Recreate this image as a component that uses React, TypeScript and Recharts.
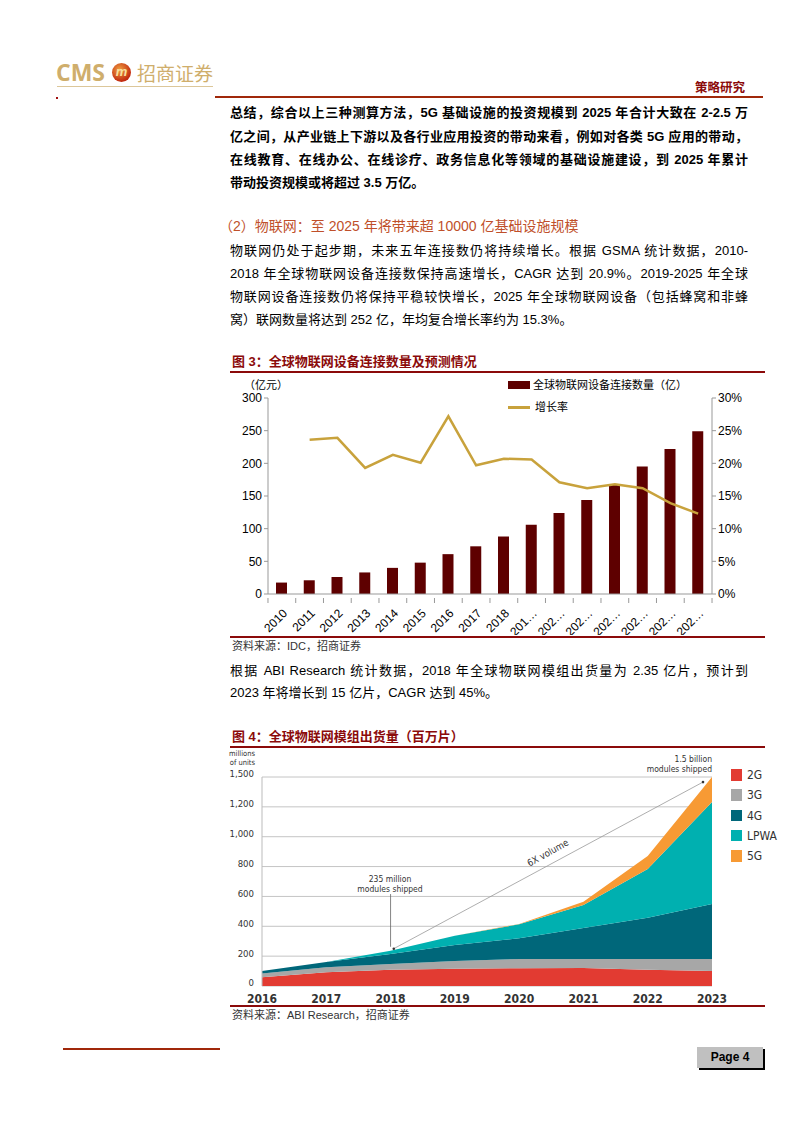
import React from "react";
import {
  ComposedChart,
  Bar,
  Line,
  XAxis,
  YAxis,
  AreaChart,
  Area,
  CartesianGrid,
  ReferenceLine,
  ReferenceDot
} from "recharts";

// figure 3: IoT connections (100m) and growth rate
const years = ["2010", "2011", "2012", "2013", "2014", "2015", "2016", "2017", "2018", "2019", "2020", "2021", "2022", "2023", "2024", "2025"];
const yearTicks = ["2010", "2011", "2012", "2013", "2014", "2015", "2016", "2017", "2018", "201…", "202…", "202…", "202…", "202…", "202…", "202…"];
const connections = [17.5, 21, 26, 33, 40, 48, 61, 73, 88, 106, 124, 144, 167, 195, 222, 249];
const growth = [null, 0.236, 0.239, 0.193, 0.213, 0.201, 0.272, 0.197, 0.207, 0.206, 0.171, 0.162, 0.168, 0.162, 0.139, 0.123];
const leftTicks = [0, 50, 100, 150, 200, 250, 300];
const rightTicks = [0, 0.05, 0.1, 0.15, 0.2, 0.25, 0.3];

// figure 4: module shipments (millions)
const shipYears = [2016, 2017, 2018, 2019, 2020, 2021, 2022, 2023];
const g2 = [58, 92, 109, 116, 119, 120, 109, 100];
const g3 = [25, 33, 38, 51, 62, 61, 72, 81];
const g4 = [17, 35, 67, 108, 139, 207, 277, 368];
const lpwa = [0, 0, 22, 62, 93, 154, 325, 683];
const g5 = [0, 0, 0, 0, 3, 23, 88, 168];
const shipTicks = [0, 200, 400, 600, 800, 1000, 1200, 1400];
const shipTickLabels = ["0", "200", "400", "600", "800", "1,000", "1,200", "1,500"];
const seriesNames = ["2G", "3G", "4G", "LPWA", "5G"];
const seriesColors = ["#e23b32", "#a7a7a7", "#00677a", "#00b0b0", "#f79a34"];
const seriesKeys = ["g2", "g3", "g4", "lpwa", "g5"];

const data1 = years.map((y, i) => ({ year: y, conn: connections[i], growth: growth[i] }));
const data2 = shipYears.map((y, i) => ({ year: y, g2: g2[i], g3: g3[i], g4: g4[i], lpwa: lpwa[i], g5: g5[i] }));

const SANS = '"Liberation Sans", Arial, "Noto Sans CJK SC", sans-serif';
const NARROW = '"Liberation Sans Narrow", "DejaVu Sans Condensed", "Liberation Sans", sans-serif';
const DARKRED = "#8b0a0a";

const TextLine = ({ top, children, bold, last, color, size = 13 }: any) => (
  <div
    style={{
      position: "absolute",
      left: 230,
      width: 518,
      top: top - 9,
      height: 18,
      lineHeight: "18px",
      fontSize: size,
      fontFamily: SANS,
      fontWeight: bold ? 700 : 400,
      color: color || "#000",
      whiteSpace: "nowrap",
      textAlign: "justify",
      textAlignLast: last ? "left" : "justify"
    }}
  >
    {children}
  </div>
);

const Abs = ({ style, children }: any) => (
  <div style={{ position: "absolute", ...style }}>{children}</div>
);

const YearTick = (props: any) => {
  const { x, y, index } = props;
  const half = 13.9;
  return (
    <g>
      <line x1={x - half} y1={y - 4} x2={x - half} y2={y + 1} stroke="#999" />
      {index === years.length - 1 && <line x1={x + half} y1={y - 4} x2={x + half} y2={y + 1} stroke="#999" />}
      <text
        x={x + 6}
        y={y + 12}
        transform={`rotate(-45, ${x + 6}, ${y + 12})`}
        textAnchor="end"
        fontSize={12}
        fontFamily={SANS}
        fill="#000"
      >
        {yearTicks[index]}
      </text>
    </g>
  );
};

const Fig3 = () => (
  <ComposedChart width={540} height={260} data={data1} margin={{ top: 23, right: 0, left: 0, bottom: 0 }}>
    <XAxis dataKey="year" interval={0} height={41} axisLine={{ stroke: "#999" }} tickLine={false} tick={<YearTick />} />
    <YAxis
      yAxisId="left"
      domain={[0, 300]}
      ticks={leftTicks}
      width={48}
      axisLine={{ stroke: "#999" }}
      tickLine={{ stroke: "#999" }}
      tickSize={4}
      tick={{ fontSize: 12, fill: "#000", fontFamily: SANS }}
    />
    <YAxis
      yAxisId="right"
      orientation="right"
      domain={[0, 0.3]}
      ticks={rightTicks}
      width={48}
      axisLine={{ stroke: "#999" }}
      tickLine={{ stroke: "#999" }}
      tickSize={4}
      tickFormatter={(v: number) => `${Math.round(v * 100)}%`}
      tick={{ fontSize: 12, fill: "#000", fontFamily: SANS }}
    />
    <Bar yAxisId="left" dataKey="conn" fill="#5e0000" barSize={11} isAnimationActive={false} />
    <Line
      yAxisId="right"
      dataKey="growth"
      stroke="#c8a23c"
      strokeWidth={2.5}
      dot={false}
      type="linear"
      connectNulls={false}
      isAnimationActive={false}
    />
  </ComposedChart>
);

const Fig4 = () => (
  <AreaChart width={540} height={260} data={data2} margin={{ top: 27, right: 48, left: 0, bottom: 0 }}>
    <CartesianGrid vertical={false} stroke="#c4c4c4" strokeWidth={1} />
    <XAxis
      dataKey="year"
      type="number"
      domain={[2016, 2023]}
      ticks={shipYears}
      height={24}
      axisLine={false}
      tickLine={false}
      tick={{ fontSize: 12, fontWeight: 700, fill: "#333", fontFamily: NARROW }}
    />
    <YAxis
      domain={[0, 1400]}
      ticks={shipTicks}
      width={42}
      axisLine={{ stroke: "#bbb" }}
      tickLine={false}
      tickFormatter={(v: number) => shipTickLabels[shipTicks.indexOf(v)]}
      tick={{ fontSize: 9.5, fill: "#333", fontFamily: NARROW, dy: -3 }}
    />
    {seriesKeys.map((k, i) => (
      <Area
        key={k}
        dataKey={k}
        stackId="1"
        type="linear"
        stroke="none"
        fill={seriesColors[i]}
        fillOpacity={1}
        isAnimationActive={false}
      />
    ))}
    <ReferenceLine segment={[{ x: 2018, y: 263 }, { x: 2018, y: 616 }]} stroke="#666" strokeWidth={0.8} />
    <ReferenceLine segment={[{ x: 2018.05, y: 250 }, { x: 2022.86, y: 1366 }]} stroke="#999" strokeWidth={0.8} />
    <ReferenceDot x={2018.05} y={250} r={1.3} fill="#333" stroke="none" />
    <ReferenceDot x={2022.86} y={1366} r={1.3} fill="#333" stroke="none" />
  </AreaChart>
);

export default function App() {
  return (
    <div style={{ position: "absolute", left: 0, top: 0, width: 793, height: 1122, background: "#fff", overflow: "hidden", fontFamily: SANS }}>
      {/* header */}
      <Abs style={{ left: 56, top: 59, fontSize: 23, fontWeight: 700, color: "#cfae6c", fontFamily: '"Open Sans", sans-serif', lineHeight: "27px" }}>CMS</Abs>
      <Abs
        style={{
          left: 112,
          top: 63,
          width: 19,
          height: 19,
          borderRadius: "50%",
          background: "radial-gradient(circle at 40% 35%, #f0a040, #c22a10 70%)",
          color: "#f8e0a0",
          fontSize: 13,
          fontWeight: 700,
          fontStyle: "italic",
          textAlign: "center",
          lineHeight: "18px"
        }}
      >
        m
      </Abs>
      <Abs style={{ left: 137, top: 61, fontSize: 19, color: "#cfae6c", fontFamily: '"Noto Sans CJK SC", sans-serif', lineHeight: "24px" }}>招商证券</Abs>
      <Abs style={{ left: 57, top: 86, width: 156, height: 1, background: "#dcc79a" }} />
      <Abs style={{ left: 56, top: 97, width: 2, height: 2, background: "#a01010" }} />
      <Abs style={{ left: 215, top: 96, width: 548, height: 1.5, background: "#a0280a" }} />
      <Abs style={{ left: 695, top: 79, fontSize: 12.5, fontWeight: 700, color: DARKRED, fontFamily: '"Noto Sans CJK SC", sans-serif', lineHeight: "16px" }}>策略研究</Abs>

      {/* summary paragraph */}
      <TextLine top={113} bold>总结，综合以上三种测算方法，5G 基础设施的投资规模到 2025 年合计大致在 2-2.5 万</TextLine>
      <TextLine top={137} bold>亿之间，从产业链上下游以及各行业应用投资的带动来看，例如对各类 5G 应用的带动，</TextLine>
      <TextLine top={160} bold>在线教育、在线办公、在线诊疗、政务信息化等领域的基础设施建设，到 2025 年累计</TextLine>
      <TextLine top={183} bold last>带动投资规模或将超过 3.5 万亿。</TextLine>

      <Abs style={{ left: 219, top: 217, fontSize: 14, color: "#c0502a", lineHeight: "18px", whiteSpace: "nowrap" }}>（2）物联网：至 2025 年将带来超 10000 亿基础设施规模</Abs>

      <TextLine top={251}>物联网仍处于起步期，未来五年连接数仍将持续增长。根据 GSMA 统计数据，2010-</TextLine>
      <TextLine top={274}>2018 年全球物联网设备连接数保持高速增长，CAGR 达到 20.9%。2019-2025 年全球</TextLine>
      <TextLine top={297}>物联网设备连接数仍将保持平稳较快增长，2025 年全球物联网设备（包括蜂窝和非蜂</TextLine>
      <TextLine top={320} last>窝）联网数量将达到 252 亿，年均复合增长率约为 15.3%。</TextLine>

      {/* figure 3 */}
      <Abs style={{ left: 232, top: 354, fontSize: 13, fontWeight: 700, color: DARKRED, lineHeight: "16px", whiteSpace: "nowrap" }}>图 3：全球物联网设备连接数量及预测情况</Abs>
      <Abs style={{ left: 230, top: 371, width: 535, height: 1.5, background: DARKRED }} />
      <Abs style={{ left: 220, top: 375 }}>
        <Fig3 />
      </Abs>
      <Abs style={{ left: 244, top: 378, fontSize: 11, lineHeight: "14px", color: "#000" }}>（亿元）</Abs>
      <Abs style={{ left: 508, top: 381, width: 22, height: 8, background: "#5e0000" }} />
      <Abs style={{ left: 533, top: 378, fontSize: 11, lineHeight: "14px", color: "#000", whiteSpace: "nowrap" }}>全球物联网设备连接数量（亿）</Abs>
      <Abs style={{ left: 508, top: 406, width: 22, height: 2.5, background: "#c8a23c" }} />
      <Abs style={{ left: 535, top: 400, fontSize: 11, lineHeight: "14px", color: "#000" }}>增长率</Abs>
      <Abs style={{ left: 230, top: 636, width: 535, height: 1.5, background: DARKRED }} />
      <Abs style={{ left: 232, top: 639, fontSize: 11, lineHeight: "14px", color: "#333" }}>资料来源：IDC，招商证券</Abs>

      <TextLine top={671}>根据 ABI Research 统计数据，2018 年全球物联网模组出货量为 2.35 亿片，预计到</TextLine>
      <TextLine top={693} last>2023 年将增长到 15 亿片，CAGR 达到 45%。</TextLine>

      {/* figure 4 */}
      <Abs style={{ left: 232, top: 729, fontSize: 13, fontWeight: 700, color: DARKRED, lineHeight: "16px", whiteSpace: "nowrap" }}>图 4：全球物联网模组出货量（百万片）</Abs>
      <Abs style={{ left: 230, top: 746, width: 535, height: 1.5, background: DARKRED }} />
      <Abs style={{ left: 220, top: 750 }}>
        <Fig4 />
      </Abs>
      <Abs style={{ left: 225, top: 749, width: 30, fontSize: 7.5, lineHeight: "9px", color: "#333", textAlign: "right", fontFamily: NARROW }}>
        millions<br />of units
      </Abs>
      <Abs style={{ left: 612, top: 754, width: 100, fontSize: 8.5, lineHeight: "10px", color: "#333", textAlign: "right", fontFamily: NARROW }}>
        1.5 billion<br />modules shipped
      </Abs>
      <Abs style={{ left: 340, top: 874, width: 100, fontSize: 8.5, lineHeight: "10px", color: "#333", textAlign: "center", fontFamily: NARROW }}>
        235 million<br />modules shipped
      </Abs>
      <Abs style={{ left: 518, top: 847, width: 60, fontSize: 9.5, lineHeight: "12px", color: "#333", textAlign: "center", fontFamily: NARROW, transform: "rotate(-29deg)" }}>
        6X volume
      </Abs>
      <Abs style={{ left: 731, top: 769, width: 56, height: 100 }}>
        {seriesNames.map((n, i) => (
          <div key={n} style={{ position: "absolute", left: 0, top: i * 20.3, height: 12, whiteSpace: "nowrap" }}>
            <div style={{ position: "absolute", left: 0, top: 0, width: 11, height: 11.5, background: seriesColors[i] }} />
            <div style={{ position: "absolute", left: 16, top: -1, fontSize: 12, lineHeight: "14px", color: "#333", fontFamily: NARROW }}>{n}</div>
          </div>
        ))}
      </Abs>
      <Abs style={{ left: 230, top: 1005, width: 535, height: 1.5, background: DARKRED }} />
      <Abs style={{ left: 232, top: 1008, fontSize: 11, lineHeight: "14px", color: "#333" }}>资料来源：ABI Research，招商证券</Abs>

      {/* footer */}
      <Abs style={{ left: 63, top: 1048, width: 157, height: 1.5, background: "#a0280a" }} />
      <Abs
        style={{
          left: 697,
          top: 1047,
          width: 66,
          height: 21,
          background: "#c0c0c0",
          boxShadow: "2px 2px 0 #000",
          fontSize: 12,
          fontWeight: 700,
          lineHeight: "21px",
          textAlign: "center",
          color: "#000"
        }}
      >
        Page 4
      </Abs>
    </div>
  );
}
